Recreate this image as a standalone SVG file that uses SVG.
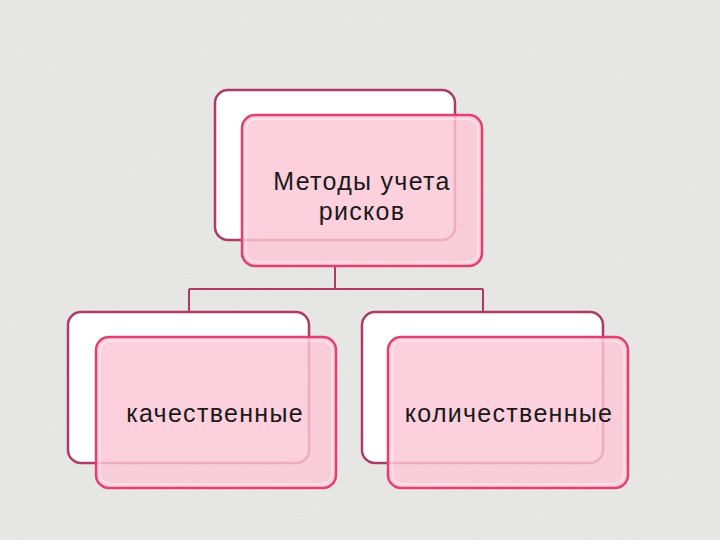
<svg xmlns="http://www.w3.org/2000/svg" width="720" height="540" viewBox="0 0 720 540">
<defs>
<filter id="noise" x="0" y="0" width="100%" height="100%">
<feTurbulence type="fractalNoise" baseFrequency="0.9" numOctaves="2" seed="3" result="n"/>
<feColorMatrix type="matrix" values="0 0 0 0 0.6  0 0 0 0 0.6  0 0 0 0 0.58  0 0 0 0.3 -0.05"/>
</filter>
</defs>
<style>
.back{fill:#ffffff;stroke:#b03a66;stroke-width:2.5}
.front{fill:#fbc6d5;fill-opacity:0.82;stroke:#e2406f;stroke-width:2.5}
.hl{fill:none;stroke:#ffffff;stroke-opacity:0.35;stroke-width:2}
.conn{fill:none;stroke:#b03a66;stroke-width:2}
.t{font-family:"Century Gothic","URW Gothic","Liberation Sans",sans-serif;font-size:25px;letter-spacing:1.3px;fill:#1a1a1a;text-anchor:middle}
</style>
<rect width="720" height="540" fill="#e9e9e7"/>
<rect width="720" height="540" filter="url(#noise)"/>
<g id="connectors">
<path class="conn" d="M335 266 V289 M189 289 H483 M189 289 V312 M483 289 V312"/>
</g>
<g id="node-top">
<rect class="back" x="215" y="90" width="240" height="150" rx="13"/>
<rect class="front" x="242" y="115" width="240" height="151" rx="13"/>
<rect class="hl" x="246" y="119" width="232" height="143" rx="10"/>
<text class="t" x="362" y="190">Методы учета</text>
<text class="t" x="362" y="220">рисков</text>
</g>
<g id="node-left">
<rect class="back" x="68" y="312" width="241" height="151" rx="13"/>
<rect class="front" x="96" y="337" width="240" height="151" rx="13"/>
<rect class="hl" x="100" y="341" width="232" height="143" rx="10"/>
<text class="t" x="215" y="422">качественные</text>
</g>
<g id="node-right">
<rect class="back" x="362" y="312" width="241" height="151" rx="13"/>
<rect class="front" x="388" y="337" width="240" height="151" rx="13"/>
<rect class="hl" x="392" y="341" width="232" height="143" rx="10"/>
<text class="t" x="509" y="422">количественные</text>
</g>
</svg>
